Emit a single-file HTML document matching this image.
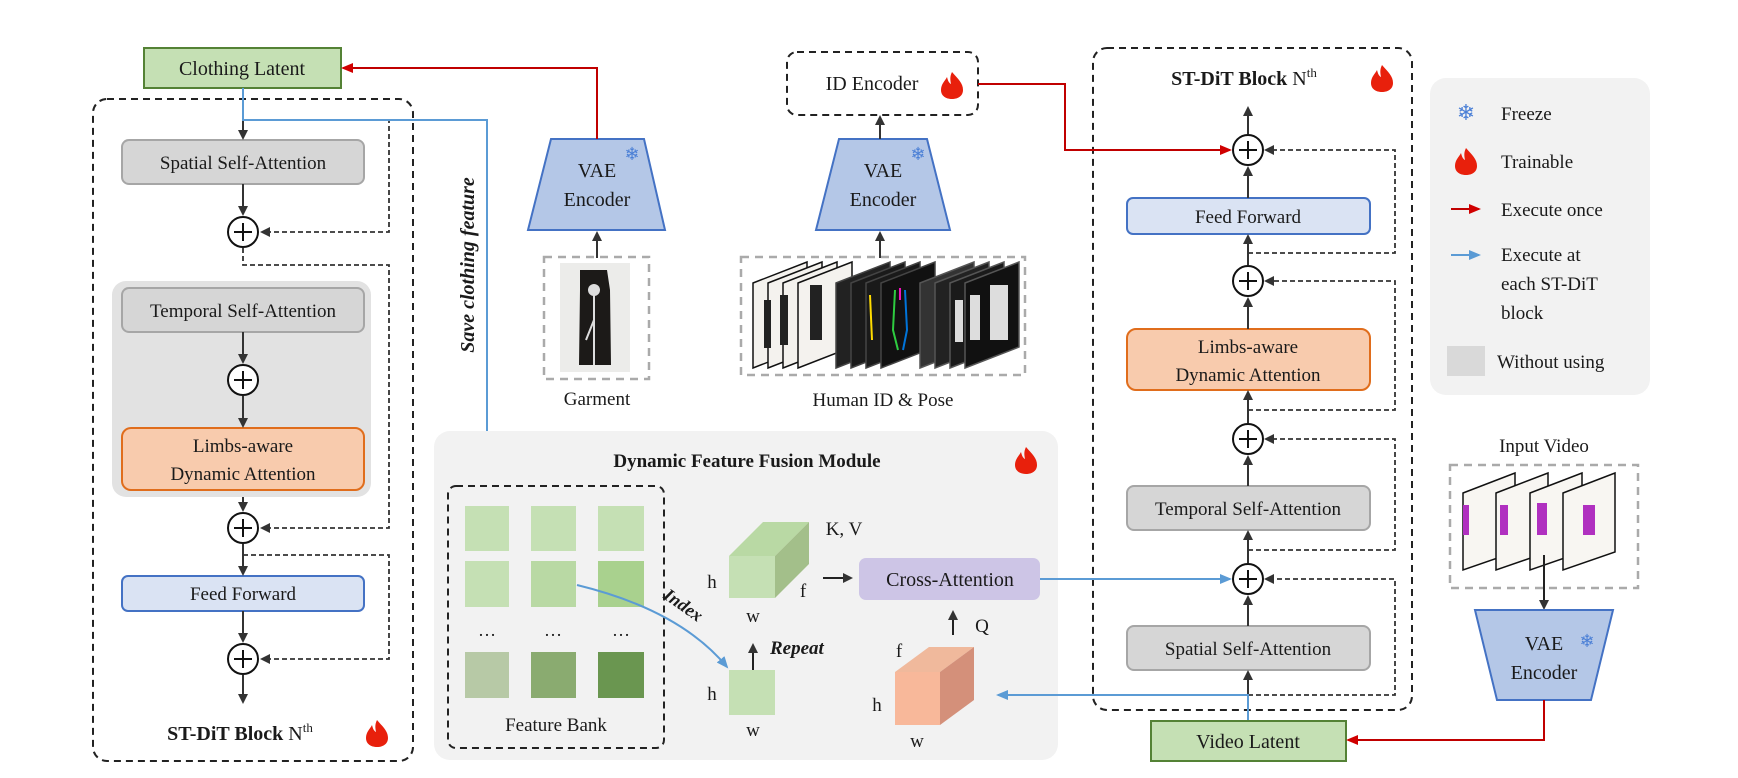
<!DOCTYPE html>
<html><head><meta charset="utf-8"><style>
html,body{margin:0;padding:0;background:#fff;}
svg{display:block;}
text{font-family:"Liberation Serif",serif;fill:#1a1a1a;}
</style></head><body>
<svg width="1738" height="778" viewBox="0 0 1738 778" xmlns="http://www.w3.org/2000/svg">
<defs>
<marker id="ak" markerWidth="10" markerHeight="10" refX="8" refY="5" orient="auto" markerUnits="userSpaceOnUse"><path d="M0,0 L10,5 L0,10 z" fill="#333"/></marker>
<marker id="ar" markerWidth="12" markerHeight="10" refX="10" refY="5" orient="auto" markerUnits="userSpaceOnUse"><path d="M0,0 L12,5 L0,10 z" fill="#d00000"/></marker>
<marker id="ab" markerWidth="12" markerHeight="10" refX="10" refY="5" orient="auto" markerUnits="userSpaceOnUse"><path d="M0,0 L12,5 L0,10 z" fill="#5b9bd5"/></marker>
<g id="flame"><path d="M0,-13 C6,-6 11,-2 11,5 C11,11 6,14 0,14 C-6,14 -11,11 -11,5 C-11,-1 -7,-4 -5,-8 C-4,-4 -3,-2 -1,-1 C-2,-6 -2,-9 0,-13 z" fill="#e8200c"/></g>
<g id="plus"><circle r="15" fill="#fff" stroke="#111" stroke-width="2"/><path d="M-9,0 H9 M0,-9 V9" stroke="#111" stroke-width="2"/></g>
</defs>

<!-- LEFT BLOCK -->
<rect x="144" y="48" width="197" height="40" fill="#c5e0b4" stroke="#548235" stroke-width="2"/>
<text x="242" y="75" font-size="20" text-anchor="middle">Clothing Latent</text>
<rect x="93" y="99" width="320" height="662" rx="14" fill="none" stroke="#222" stroke-width="2" stroke-dasharray="7,5"/>
<rect x="112" y="281" width="259" height="216" rx="14" fill="#e2e2e2"/>
<rect x="122" y="140" width="242" height="44" rx="7" fill="#d6d6d6" stroke="#a6a6a6" stroke-width="2"/>
<text x="243" y="169" font-size="19" text-anchor="middle">Spatial Self-Attention</text>
<rect x="122" y="288" width="242" height="44" rx="7" fill="#d6d6d6" stroke="#a6a6a6" stroke-width="2"/>
<text x="243" y="317" font-size="19" text-anchor="middle">Temporal Self-Attention</text>
<rect x="122" y="428" width="242" height="62" rx="9" fill="#f8cbad" stroke="#e06d1c" stroke-width="2"/>
<text x="243" y="452" font-size="19" text-anchor="middle">Limbs-aware</text>
<text x="243" y="480" font-size="19" text-anchor="middle">Dynamic Attention</text>
<rect x="122" y="576" width="242" height="35" rx="6" fill="#dae3f3" stroke="#4472c4" stroke-width="2"/>
<text x="243" y="600" font-size="19" text-anchor="middle">Feed Forward</text>
<g stroke="#333" stroke-width="2" fill="none">
<path d="M243,120 V138" marker-end="url(#ak)"/>
<path d="M243,184 V214" marker-end="url(#ak)"/>
<path d="M243,332 V362" marker-end="url(#ak)"/>
<path d="M243,396 V426" marker-end="url(#ak)"/>
<path d="M243,497 V510" marker-end="url(#ak)"/>
<path d="M243,544 V574" marker-end="url(#ak)"/>
<path d="M243,611 V641" marker-end="url(#ak)"/>
<path d="M243,675 V702" marker-end="url(#ak)"/>
</g>
<g stroke="#333" stroke-width="1.8" fill="none" stroke-dasharray="5,3">
<path d="M243,120 H389 V232 H262" marker-end="url(#ak)"/>
<path d="M243,248 V265 H389 V528 H262" marker-end="url(#ak)"/>
<path d="M243,555 H389 V659 H262" marker-end="url(#ak)"/>
</g>
<use href="#plus" x="243" y="232"/><use href="#plus" x="243" y="380"/><use href="#plus" x="243" y="528"/><use href="#plus" x="243" y="659"/>
<text x="240" y="740" font-size="20" font-weight="bold" text-anchor="middle">ST-DiT Block <tspan font-weight="normal">N</tspan><tspan font-weight="normal" font-size="13" dy="-8">th</tspan></text>
<use href="#flame" x="377" y="733"/>

<!-- blue save line -->
<path d="M243,88 V120 H487 V500" fill="none" stroke="#5b9bd5" stroke-width="2" marker-end="url(#ab)"/>
<text transform="translate(474,265) rotate(-90)" font-size="20" font-weight="bold" font-style="italic" text-anchor="middle">Save clothing feature</text>

<!-- VAE garment -->
<path d="M551,139 H644 L665,230 H528 z" fill="#b4c7e7" stroke="#4472c4" stroke-width="2"/>
<text x="597" y="177" font-size="20" text-anchor="middle">VAE</text>
<text x="597" y="206" font-size="20" text-anchor="middle">Encoder</text>
<text x="632" y="160" font-size="18" fill="#4a7fd6" text-anchor="middle" style="fill:#4a7fd6">❄</text>
<path d="M597,139 V68 H343" fill="none" stroke="#c00000" stroke-width="2" marker-end="url(#ar)"/>
<path d="M597,258 V233" stroke="#333" stroke-width="2" marker-end="url(#ak)"/>
<rect x="544" y="257" width="105" height="122" fill="none" stroke="#aaa" stroke-width="2.5" stroke-dasharray="8,6"/>
<rect x="560" y="263" width="70" height="109" fill="#ececea"/>
<path d="M580,270 L607,270 L610,290 L611,365 L579,365 L580,290 z" fill="#1c1a18"/>
<path d="M594,365 V295 M594,320 L586,340" stroke="#ddd" stroke-width="2" fill="none"/>
<circle cx="594" cy="290" r="6" fill="#ddd"/>
<text x="597" y="405" font-size="19" text-anchor="middle">Garment</text>

<!-- ID encoder -->
<rect x="787" y="52" width="191" height="63" rx="10" fill="none" stroke="#222" stroke-width="2" stroke-dasharray="7,5"/>
<text x="872" y="90" font-size="20" text-anchor="middle">ID Encoder</text>
<use href="#flame" x="952" y="85"/>
<path d="M839,139 H927 L950,230 H816 z" fill="#b4c7e7" stroke="#4472c4" stroke-width="2"/>
<text x="883" y="177" font-size="20" text-anchor="middle">VAE</text>
<text x="883" y="206" font-size="20" text-anchor="middle">Encoder</text>
<text x="918" y="160" font-size="18" text-anchor="middle" style="fill:#4a7fd6">❄</text>
<path d="M880,139 V117" stroke="#333" stroke-width="2" marker-end="url(#ak)"/>
<path d="M880,258 V233" stroke="#333" stroke-width="2" marker-end="url(#ak)"/>
<rect x="741" y="257" width="284" height="118" fill="none" stroke="#aaa" stroke-width="2.5" stroke-dasharray="8,6"/>
<g stroke="#111" stroke-width="1.5">
<path d="M753,283 L807,262 V347 L753,368 z" fill="#f4f2ee"/>
<path d="M768,283 L822,262 V347 L768,368 z" fill="#f4f2ee"/>
<path d="M783,283 L837,262 V347 L783,368 z" fill="#f4f2ee"/>
<path d="M798,283 L852,262 V347 L798,368 z" fill="#f4f2ee"/>
<path d="M836,283 L890,262 V347 L836,368 z" fill="#222" stroke="#444"/>
<path d="M851,283 L905,262 V347 L851,368 z" fill="#1a1a1a" stroke="#444"/>
<path d="M866,283 L920,262 V347 L866,368 z" fill="#1a1a1a" stroke="#444"/>
<path d="M881,283 L935,262 V347 L881,368 z" fill="#111" stroke="#444"/>
<path d="M920,283 L974,262 V347 L920,368 z" fill="#333" stroke="#555"/>
<path d="M935,283 L989,262 V347 L935,368 z" fill="#222" stroke="#555"/>
<path d="M950,283 L1004,262 V347 L950,368 z" fill="#1a1a1a" stroke="#555"/>
<path d="M965,283 L1019,262 V347 L965,368 z" fill="#111" stroke="#555"/>
</g>
<g fill="#222"><rect x="810" y="285" width="12" height="55"/><rect x="780" y="295" width="8" height="50"/><rect x="764" y="300" width="7" height="48"/></g>
<g stroke-width="2" fill="none"><path d="M895,290 L893,330 L898,350" stroke="#2ecc40"/><path d="M905,290 L907,330 L903,350" stroke="#0074d9"/><path d="M900,288 V300" stroke="#f012be"/><path d="M870,295 L872,340" stroke="#ffdc00"/></g>
<g fill="#ddd"><rect x="990" y="285" width="18" height="55"/><rect x="970" y="295" width="10" height="45"/><rect x="955" y="300" width="8" height="42"/></g>
<text x="883" y="406" font-size="19" text-anchor="middle">Human ID &amp; Pose</text>

<!-- DFF module -->
<rect x="434" y="431" width="624" height="329" rx="16" fill="#f2f2f2"/>
<text x="747" y="467" font-size="19" font-weight="bold" text-anchor="middle">Dynamic Feature Fusion Module</text>
<use href="#flame" x="1026" y="460"/>
<rect x="448" y="486" width="216" height="262" rx="8" fill="none" stroke="#222" stroke-width="2" stroke-dasharray="7,5"/>
<g>
<rect x="465" y="506" width="44" height="45" fill="#c5e0b4"/><rect x="531" y="506" width="45" height="45" fill="#c5e0b4"/><rect x="598" y="506" width="46" height="45" fill="#c5e0b4"/>
<rect x="465" y="561" width="44" height="46" fill="#c5e0b4"/><rect x="531" y="561" width="45" height="46" fill="#b9d9a4"/><rect x="598" y="561" width="46" height="46" fill="#a9d18e"/>
<rect x="465" y="652" width="44" height="46" fill="#b7c9a6"/><rect x="531" y="652" width="45" height="46" fill="#8aab70"/><rect x="598" y="652" width="46" height="46" fill="#6a9650"/>
</g>
<text x="487" y="636" font-size="18" text-anchor="middle">…</text><text x="553" y="636" font-size="18" text-anchor="middle">…</text><text x="621" y="636" font-size="18" text-anchor="middle">…</text>
<text x="556" y="731" font-size="19" text-anchor="middle">Feature Bank</text>
<path d="M577,585 Q680,610 727,667" fill="none" stroke="#5b9bd5" stroke-width="2" marker-end="url(#ab)"/>
<text transform="translate(680,610) rotate(35)" font-size="18" font-weight="bold" font-style="italic" text-anchor="middle">Index</text>
<!-- KV cube -->
<path d="M729,556 L763,522 H809 L775,556 z" fill="#b9d9a4"/>
<path d="M775,556 L809,522 V564 L775,598 z" fill="#a3bf8a"/>
<rect x="729" y="556" width="46" height="42" fill="#c5e0b4"/>
<text x="712" y="588" font-size="19" text-anchor="middle">h</text>
<text x="753" y="622" font-size="19" text-anchor="middle">w</text>
<text x="803" y="597" font-size="19" text-anchor="middle">f</text>
<text x="844" y="535" font-size="19" text-anchor="middle">K, V</text>
<path d="M823,578 H851" stroke="#222" stroke-width="2" marker-end="url(#ak)"/>
<rect x="859" y="558" width="181" height="42" rx="7" fill="#cdc5e6"/>
<text x="950" y="586" font-size="20" text-anchor="middle">Cross-Attention</text>
<path d="M753,670 V645" stroke="#222" stroke-width="2" marker-end="url(#ak)"/>
<text x="770" y="654" font-size="19" font-weight="bold" font-style="italic">Repeat</text>
<rect x="729" y="670" width="46" height="45" fill="#c5e0b4"/>
<text x="712" y="700" font-size="19" text-anchor="middle">h</text>
<text x="753" y="736" font-size="19" text-anchor="middle">w</text>
<!-- Q cube -->
<path d="M895,672 L929,647 H974 L940,672 z" fill="#f0b99c"/>
<path d="M940,672 L974,647 V700 L940,725 z" fill="#d4907a"/>
<rect x="895" y="672" width="45" height="53" fill="#f8b89a"/>
<text x="899" y="657" font-size="19" text-anchor="middle">f</text>
<text x="877" y="711" font-size="19" text-anchor="middle">h</text>
<text x="917" y="747" font-size="19" text-anchor="middle">w</text>
<path d="M953,635 V612" stroke="#222" stroke-width="2" marker-end="url(#ak)"/>
<text x="982" y="632" font-size="19" text-anchor="middle">Q</text>

<!-- RIGHT BLOCK -->
<rect x="1093" y="48" width="319" height="662" rx="14" fill="none" stroke="#222" stroke-width="2" stroke-dasharray="7,5"/>
<text x="1244" y="85" font-size="20" font-weight="bold" text-anchor="middle">ST-DiT Block <tspan font-weight="normal">N</tspan><tspan font-weight="normal" font-size="13" dy="-8">th</tspan></text>
<use href="#flame" x="1382" y="78"/>
<rect x="1127" y="198" width="243" height="36" rx="6" fill="#dae3f3" stroke="#4472c4" stroke-width="2"/>
<text x="1248" y="223" font-size="19" text-anchor="middle">Feed Forward</text>
<rect x="1127" y="329" width="243" height="61" rx="9" fill="#f8cbad" stroke="#e06d1c" stroke-width="2"/>
<text x="1248" y="353" font-size="19" text-anchor="middle">Limbs-aware</text>
<text x="1248" y="381" font-size="19" text-anchor="middle">Dynamic Attention</text>
<rect x="1127" y="486" width="243" height="44" rx="7" fill="#d6d6d6" stroke="#a6a6a6" stroke-width="2"/>
<text x="1248" y="515" font-size="19" text-anchor="middle">Temporal Self-Attention</text>
<rect x="1127" y="626" width="243" height="44" rx="7" fill="#d6d6d6" stroke="#a6a6a6" stroke-width="2"/>
<text x="1248" y="655" font-size="19" text-anchor="middle">Spatial Self-Attention</text>
<g stroke="#333" stroke-width="2" fill="none">
<path d="M1248,134 V108" marker-end="url(#ak)"/>
<path d="M1248,198 V168" marker-end="url(#ak)"/>
<path d="M1248,265 V236" marker-end="url(#ak)"/>
<path d="M1248,329 V299" marker-end="url(#ak)"/>
<path d="M1248,423 V392" marker-end="url(#ak)"/>
<path d="M1248,486 V457" marker-end="url(#ak)"/>
<path d="M1248,563 V532" marker-end="url(#ak)"/>
<path d="M1248,626 V597" marker-end="url(#ak)"/>
<path d="M1248,721 V672" marker-end="url(#ak)"/>
</g>
<g stroke="#333" stroke-width="1.8" fill="none" stroke-dasharray="5,3">
<path d="M1248,253 H1395 V150 H1266" marker-end="url(#ak)"/>
<path d="M1248,410 H1395 V281 H1266" marker-end="url(#ak)"/>
<path d="M1248,550 H1395 V439 H1266" marker-end="url(#ak)"/>
<path d="M1248,695 H1395 V579 H1266" marker-end="url(#ak)"/>
</g>
<use href="#plus" x="1248" y="150"/><use href="#plus" x="1248" y="281"/><use href="#plus" x="1248" y="439"/><use href="#plus" x="1248" y="579"/>
<path d="M978,84 H1065 V150 H1230" fill="none" stroke="#c00000" stroke-width="2" marker-end="url(#ar)"/>
<path d="M1040,579 H1230" fill="none" stroke="#5b9bd5" stroke-width="2" marker-end="url(#ab)"/>
<path d="M1248,721 V695 H998" fill="none" stroke="#5b9bd5" stroke-width="2" marker-end="url(#ab)"/>
<rect x="1151" y="721" width="195" height="40" fill="#c5e0b4" stroke="#548235" stroke-width="2"/>
<text x="1248" y="748" font-size="20" text-anchor="middle">Video Latent</text>

<!-- Input video -->
<text x="1544" y="452" font-size="19" text-anchor="middle">Input Video</text>
<rect x="1450" y="465" width="188" height="123" fill="none" stroke="#aaa" stroke-width="2.5" stroke-dasharray="8,6"/>
<g stroke="#111" stroke-width="1.5">
<path d="M1463,493 L1515,473 V552 L1463,570 z" fill="#f8f6f2"/>
<path d="M1496,493 L1548,473 V552 L1496,570 z" fill="#f8f6f2"/>
<path d="M1530,493 L1582,473 V552 L1530,570 z" fill="#f8f6f2"/>
<path d="M1563,493 L1615,473 V552 L1563,570 z" fill="#f8f6f2"/>
</g>
<g fill="#b030c0"><rect x="1463" y="505" width="6" height="30"/><rect x="1500" y="505" width="8" height="30"/><rect x="1537" y="503" width="10" height="32"/><rect x="1583" y="505" width="12" height="30"/></g>
<path d="M1544,555 V608" stroke="#222" stroke-width="2" marker-end="url(#ak)"/>
<path d="M1475,610 H1613 L1591,700 H1497 z" fill="#b4c7e7" stroke="#4472c4" stroke-width="2"/>
<text x="1544" y="650" font-size="20" text-anchor="middle">VAE</text>
<text x="1544" y="679" font-size="20" text-anchor="middle">Encoder</text>
<text x="1587" y="647" font-size="18" text-anchor="middle" style="fill:#4a7fd6">❄</text>
<path d="M1544,700 V740 H1348" fill="none" stroke="#c00000" stroke-width="2" marker-end="url(#ar)"/>

<!-- Legend -->
<rect x="1430" y="78" width="220" height="317" rx="16" fill="#f2f2f2"/>
<text x="1466" y="120" font-size="22" text-anchor="middle" style="fill:#4a7fd6">❄</text>
<text x="1501" y="120" font-size="19">Freeze</text>
<use href="#flame" x="1466" y="161"/>
<text x="1501" y="168" font-size="19">Trainable</text>
<path d="M1451,209 H1479" stroke="#c00000" stroke-width="2" marker-end="url(#ar)"/>
<text x="1501" y="216" font-size="19">Execute once</text>
<path d="M1451,255 H1479" stroke="#5b9bd5" stroke-width="2" marker-end="url(#ab)"/>
<text x="1501" y="261" font-size="19">Execute at</text>
<text x="1501" y="290" font-size="19">each ST-DiT</text>
<text x="1501" y="319" font-size="19">block</text>
<rect x="1447" y="346" width="38" height="30" fill="#d9d9d9"/>
<text x="1497" y="368" font-size="19">Without using</text>
</svg>
</body></html>
